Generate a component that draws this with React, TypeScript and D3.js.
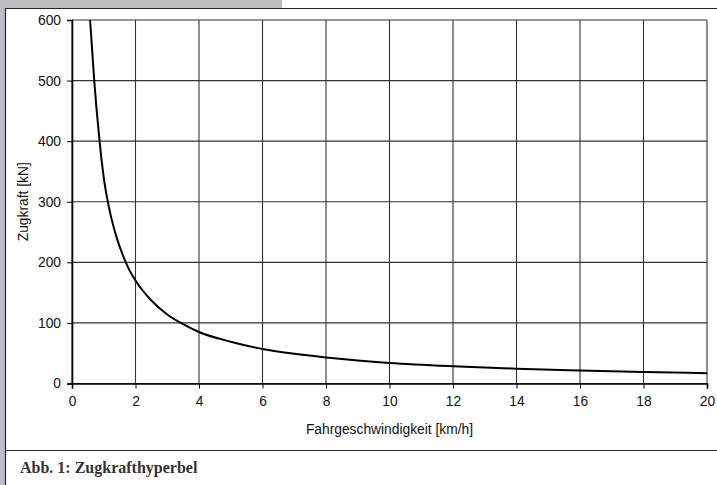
import React, { useEffect, useRef } from 'react';
import * as d3 from 'd3';

// speed [km/h] and tractive force [kN]
const speeds = [0.57, 0.7, 0.85, 1.0, 1.2, 1.4, 1.6, 1.8, 2, 2.5, 3, 3.5, 4, 5, 6, 7, 8, 9, 10, 12, 14, 16, 18, 20];
const forces = [600, 500, 410, 340, 282, 242, 212, 188, 170, 137, 114, 98, 85, 69, 57, 49, 43, 38, 34, 28.5, 24.5, 21.5, 19, 17];

const xTicks = [0, 2, 4, 6, 8, 10, 12, 14, 16, 18, 20];
const yTicks = [0, 100, 200, 300, 400, 500, 600];

const xTitle = 'Fahrgeschwindigkeit [km/h]';
const yTitle = 'Zugkraft [kN]';
const caption = 'Abb. 1: Zugkrafthyperbel';

const width = 717;
const height = 485;

const App = () => {
	const ref = useRef<SVGSVGElement>(null);

	useEffect(() => {
		if (!ref.current) return;
		const svg = d3.select(ref.current);
		svg.selectAll('*').remove();

		const m = { l: 72, r: 10, t: 20, b: 101.5 };
		const pw = width - m.l - m.r;
		const ph = height - m.t - m.b;
		const font = 'Liberation Sans, Arial, sans-serif';

		// page decoration
		svg.append('rect').attr('x', 0).attr('y', 0).attr('width', width).attr('height', height).attr('fill', '#fff');
		svg.append('rect').attr('x', 0).attr('y', 0).attr('width', 282).attr('height', 8).attr('fill', '#bdbec2');
		svg.append('rect').attr('x', 0).attr('y', 0).attr('width', 5).attr('height', height).attr('fill', '#bdbec2');
		svg.append('line').attr('x1', 5.5).attr('x2', 5.5).attr('y1', 8).attr('y2', height).attr('stroke', '#222').attr('stroke-width', 1.2);
		svg.append('line').attr('x1', 5).attr('x2', width).attr('y1', 8.5).attr('y2', 8.5).attr('stroke', '#222').attr('stroke-width', 1.2);
		svg.append('line').attr('x1', 5).attr('x2', width).attr('y1', 450.5).attr('y2', 450.5).attr('stroke', '#333').attr('stroke-width', 1.2);

		svg.append('text')
			.attr('x', 20)
			.attr('y', 473)
			.attr('font-family', 'Liberation Serif, Times New Roman, serif')
			.attr('font-weight', 'bold')
			.attr('font-size', '16px')
			.attr('fill', '#333')
			.text(caption);

		const x = d3.scaleLinear().domain([0, 20]).range([0, pw]);
		const y = d3.scaleLinear().domain([0, 600]).range([ph, 0]);

		const g = svg.append('g').attr('transform', `translate(${m.l},${m.t})`);

		// grid
		g.selectAll('.vgrid')
			.data(xTicks)
			.join('line')
			.attr('class', 'vgrid')
			.attr('x1', d => x(d))
			.attr('x2', d => x(d))
			.attr('y1', 0)
			.attr('y2', ph)
			.attr('stroke', '#333')
			.attr('stroke-width', 1.1);
		g.selectAll('.hgrid')
			.data(yTicks)
			.join('line')
			.attr('class', 'hgrid')
			.attr('x1', 0)
			.attr('x2', pw)
			.attr('y1', d => y(d))
			.attr('y2', d => y(d))
			.attr('stroke', '#333')
			.attr('stroke-width', 1.1);

		// axes
		const xAxis = g.append('g')
			.attr('transform', `translate(0,${ph})`)
			.call(d3.axisBottom(x).tickValues(xTicks).tickSize(5).tickPadding(8).tickFormat(d3.format('d')));
		const yAxis = g.append('g')
			.call(d3.axisLeft(y).tickValues(yTicks).tickSize(5).tickPadding(6).tickFormat(d3.format('d')));
		[xAxis, yAxis].forEach(a => {
			a.select('.domain').attr('stroke', '#000').attr('stroke-width', 1.6);
			a.selectAll('.tick line').attr('stroke', '#000');
			a.selectAll('.tick text').attr('font-family', font).attr('font-size', '13.8px').attr('fill', '#111');
		});

		// curve
		const line = d3
			.line<number>()
			.x((d, i) => x(speeds[i]))
			.y(d => y(d))
			.curve(d3.curveMonotoneX);
		g.append('path')
			.datum(forces)
			.attr('d', line)
			.attr('fill', 'none')
			.attr('stroke', '#000')
			.attr('stroke-width', 2);

		// titles
		g.append('text')
			.attr('x', pw / 2)
			.attr('y', ph + 50)
			.attr('text-anchor', 'middle')
			.attr('font-family', font)
			.attr('font-size', '13.8px')
			.attr('fill', '#111')
			.text(xTitle);
		g.append('text')
			.attr('transform', `translate(${23 - m.l + 5},${ph / 2}) rotate(-90)`)
			.attr('text-anchor', 'middle')
			.attr('font-family', font)
			.attr('font-size', '13.8px')
			.attr('fill', '#111')
			.text(yTitle);
	}, []);

	return (
		<svg
			ref={ref}
			width={width}
			height={height}
			style={{ position: 'absolute', left: 0, top: 0, display: 'block' }}
		/>
	);
};

export default App;
